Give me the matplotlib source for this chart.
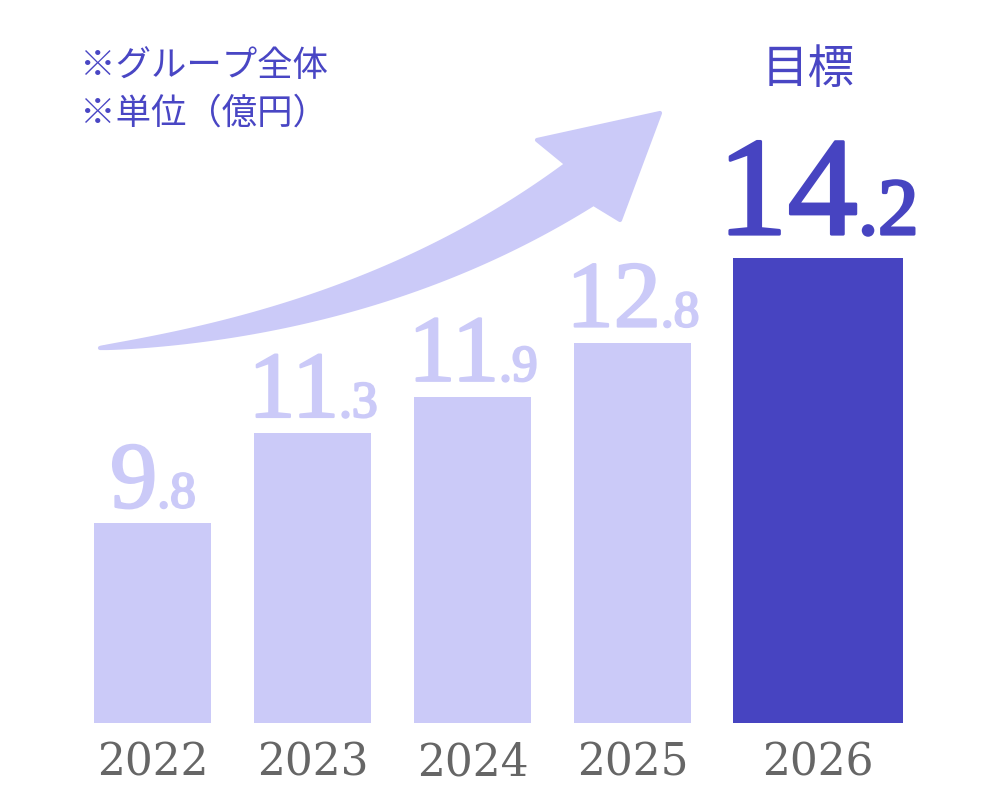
import numpy as np
import matplotlib.pyplot as plt
import matplotlib.patheffects as pe
from matplotlib.patches import Polygon
from matplotlib.transforms import offset_copy, blended_transform_factory

# data
years = ['2022', '2023', '2024', '2025', '2026']
values = [9.8, 11.3, 11.9, 12.8, 14.2]
notes = ['※グループ全体', '※単位（億円）']
target_label = '目標'

# layout / style
xpos = [0, 1, 2, 3, 4.156]
widths = [0.731, 0.731, 0.731, 0.731, 1.0625]
light = '#cbcaf8'
dark = '#4744c1'
text_blue = '#4946c4'
gray = '#666666'
jp_font = ['Noto Sans CJK JP', 'DejaVu Sans']
num_font = 'Liberation Serif'

fig = plt.figure(figsize=(10, 8), dpi=100)
ax = fig.add_axes([0, 0.09625, 1, 0.90375])
colors = [light] * 4 + [dark]
ax.bar(xpos, values, width=widths, color=colors, linewidth=0)
ax.set_xlim(-0.956, 5.294)
ax.set_ylim(6.49, 18.48)
ax.axis('off')

# year labels under the bars
blend = blended_transform_factory(ax.transData, ax.transAxes)
for x, yr in zip(xpos, years):
    ax.text(x, 0, yr, transform=offset_copy(blend, fig, y=-52, units='dots'),
            ha='center', va='baseline', fontsize=31.6, color=gray,
            family='DejaVu Serif')

# value labels: big integer part + smaller decimal part
labels = []
for i, (x, v) in enumerate(zip(xpos, values)):
    ip, dp = ('%.1f' % v).split('.')
    if i == len(values) - 1:
        big, small, gap, col, sw = 101, 58, 24, dark, 2.2
    else:
        big, small, gap, col, sw = 68, 37, 16, light, 1.6
    fx = [pe.withStroke(linewidth=sw, foreground=col)]
    t1 = ax.text(x, v, ip, ha='left', va='baseline', fontsize=big, color=col,
                 family=num_font, path_effects=fx)
    t2 = ax.text(x, v, '.' + dp, ha='left', va='baseline', fontsize=small,
                 color=col, family=num_font, path_effects=fx)
    labels.append((x, v, gap, t1, t2))

fig.canvas.draw()
r = fig.canvas.get_renderer()
for x, v, gap, t1, t2 in labels:
    w1 = t1.get_window_extent(r).width
    w2 = t2.get_window_extent(r).width
    start = -(w1 + w2) / 2
    t1.set_transform(offset_copy(ax.transData, fig, x=start, y=gap, units='dots'))
    t2.set_transform(offset_copy(ax.transData, fig, x=start + w1, y=gap, units='dots'))

# decoration layer in pixel-like coordinates
deco = fig.add_axes([0, 0, 1, 1])
deco.set_xlim(0, 1000)
deco.set_ylim(800, 0)
deco.axis('off')

# curved growth arrow
p0 = np.array([100, 348])
p1 = np.array([380, 320])
p2 = np.array([580, 184])
t = np.linspace(0, 1, 80)[:, None]
centre = (1 - t) ** 2 * p0 + 2 * (1 - t) * t * p1 + t ** 2 * p2
tang = 2 * (1 - t) * (p1 - p0) + 2 * t * (p2 - p1)
tang = tang / np.linalg.norm(tang, axis=1)[:, None]
norm = np.column_stack([tang[:, 1], -tang[:, 0]])
half = 24 * t ** 0.8
upper = centre + norm * half
lower = centre - norm * half
if upper[-1, 1] > lower[-1, 1]:
    upper, lower = lower, upper
head = np.array([[537, 140], [660, 113], [620, 220]])
outline = np.vstack([upper, head, lower[::-1]])
deco.add_patch(Polygon(outline, closed=True, facecolor=light, edgecolor=light,
                       linewidth=3, joinstyle='round'))

# notes and target label
deco.text(80, 66, notes[0], ha='left', va='center', fontsize=25.5,
          color=text_blue, family=jp_font)
deco.text(80, 114, notes[1], ha='left', va='center', fontsize=25.5,
          color=text_blue, family=jp_font)
deco.text(808, 70, target_label, ha='center', va='center', fontsize=33.5,
          color=text_blue, family=jp_font)

fig.savefig('out.png', dpi=100)
